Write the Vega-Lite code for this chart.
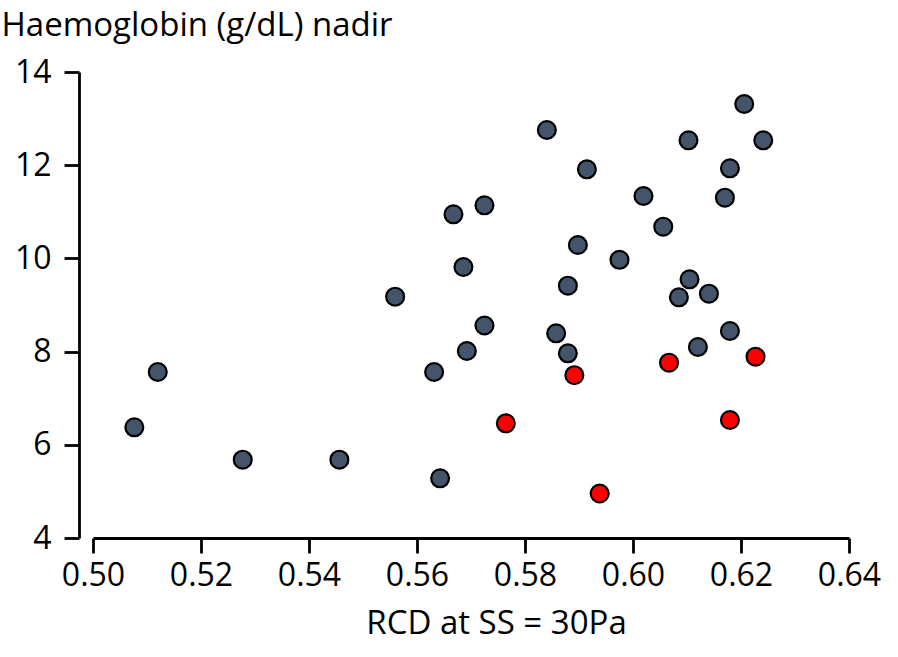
{
  "$schema": "https://vega.github.io/schema/vega-lite/v6.json",
  "autosize": {"type": "none"},
  "padding": {"left": 93, "top": 72, "right": 49, "bottom": 119},
  "width": 756,
  "height": 466,
  "background": "white",
  "config": {"view": {"stroke": null}, "font": "Open Sans"},
  "data": {"values": [
    {"rcd": 0.50765, "hb": 6.376, "group": "A"},
    {"rcd": 0.51199, "hb": 7.562, "group": "A"},
    {"rcd": 0.52773, "hb": 5.680, "group": "A"},
    {"rcd": 0.54563, "hb": 5.680, "group": "A"},
    {"rcd": 0.55595, "hb": 9.178, "group": "A"},
    {"rcd": 0.56428, "hb": 5.281, "group": "A"},
    {"rcd": 0.56317, "hb": 7.562, "group": "A"},
    {"rcd": 0.56675, "hb": 10.946, "group": "A"},
    {"rcd": 0.56860, "hb": 9.815, "group": "A"},
    {"rcd": 0.56923, "hb": 8.013, "group": "A"},
    {"rcd": 0.57249, "hb": 11.139, "group": "A"},
    {"rcd": 0.57249, "hb": 8.560, "group": "A"},
    {"rcd": 0.58405, "hb": 12.755, "group": "A"},
    {"rcd": 0.58577, "hb": 8.393, "group": "A"},
    {"rcd": 0.58794, "hb": 9.414, "group": "A"},
    {"rcd": 0.58794, "hb": 7.964, "group": "A"},
    {"rcd": 0.58979, "hb": 10.288, "group": "A"},
    {"rcd": 0.59146, "hb": 11.912, "group": "A"},
    {"rcd": 0.59750, "hb": 9.970, "group": "A"},
    {"rcd": 0.60194, "hb": 11.339, "group": "A"},
    {"rcd": 0.60560, "hb": 10.680, "group": "A"},
    {"rcd": 0.61028, "hb": 12.534, "group": "A"},
    {"rcd": 0.61047, "hb": 9.551, "group": "A"},
    {"rcd": 0.60850, "hb": 9.165, "group": "A"},
    {"rcd": 0.61202, "hb": 8.099, "group": "A"},
    {"rcd": 0.61406, "hb": 9.243, "group": "A"},
    {"rcd": 0.61702, "hb": 11.303, "group": "A"},
    {"rcd": 0.61795, "hb": 11.933, "group": "A"},
    {"rcd": 0.61795, "hb": 8.442, "group": "A"},
    {"rcd": 0.62060, "hb": 13.313, "group": "A"},
    {"rcd": 0.62412, "hb": 12.534, "group": "A"},
    {"rcd": 0.57645, "hb": 6.461, "group": "B"},
    {"rcd": 0.58914, "hb": 7.494, "group": "B"},
    {"rcd": 0.59383, "hb": 4.955, "group": "B"},
    {"rcd": 0.60667, "hb": 7.762, "group": "B"},
    {"rcd": 0.61795, "hb": 6.532, "group": "B"},
    {"rcd": 0.62269, "hb": 7.891, "group": "B"}
  ]},
  "mark": {"type": "point", "shape": "circle", "filled": true, "size": 320, "stroke": "black", "strokeWidth": 2.2, "opacity": 1},
  "encoding": {
    "x": {
      "field": "rcd", "type": "quantitative",
      "scale": {"domain": [0.5, 0.64], "nice": false, "zero": false},
      "axis": {
        "values": [0.5, 0.52, 0.54, 0.56, 0.58, 0.6, 0.62, 0.64],
        "format": ".2f", "grid": false,
        "domainColor": "black", "domainWidth": 2.8,
        "tickColor": "black", "tickWidth": 2.8, "tickSize": 15,
        "labelFontSize": 32, "labelColor": "black", "labelPadding": 7, "labelFlush": false,
        "title": "RCD at SS = 30Pa", "titleFontSize": 33, "titleFontWeight": "normal", "titleColor": "black",
        "titleX": 403, "titleY": 95, "titleBaseline": "alphabetic", "titleAlign": "center"
      }
    },
    "y": {
      "field": "hb", "type": "quantitative",
      "scale": {"domain": [4, 14], "nice": false, "zero": false},
      "axis": {
        "values": [4, 6, 8, 10, 12, 14], "grid": false, "offset": 14,
        "domainColor": "black", "domainWidth": 2.8,
        "tickColor": "black", "tickWidth": 2.8, "tickSize": 15,
        "labelFontSize": 32, "labelColor": "black", "labelPadding": 13,
        "title": "Haemoglobin (g/dL) nadir", "titleFontSize": 33, "titleFontWeight": "normal", "titleColor": "black",
        "titleAngle": 0, "titleAlign": "left", "titleBaseline": "alphabetic",
        "titleX": -78, "titleY": -37
      }
    },
    "color": {
      "field": "group", "type": "nominal",
      "scale": {"domain": ["A", "B"], "range": ["#44546A", "#FF0000"]},
      "legend": null
    }
  }
}
